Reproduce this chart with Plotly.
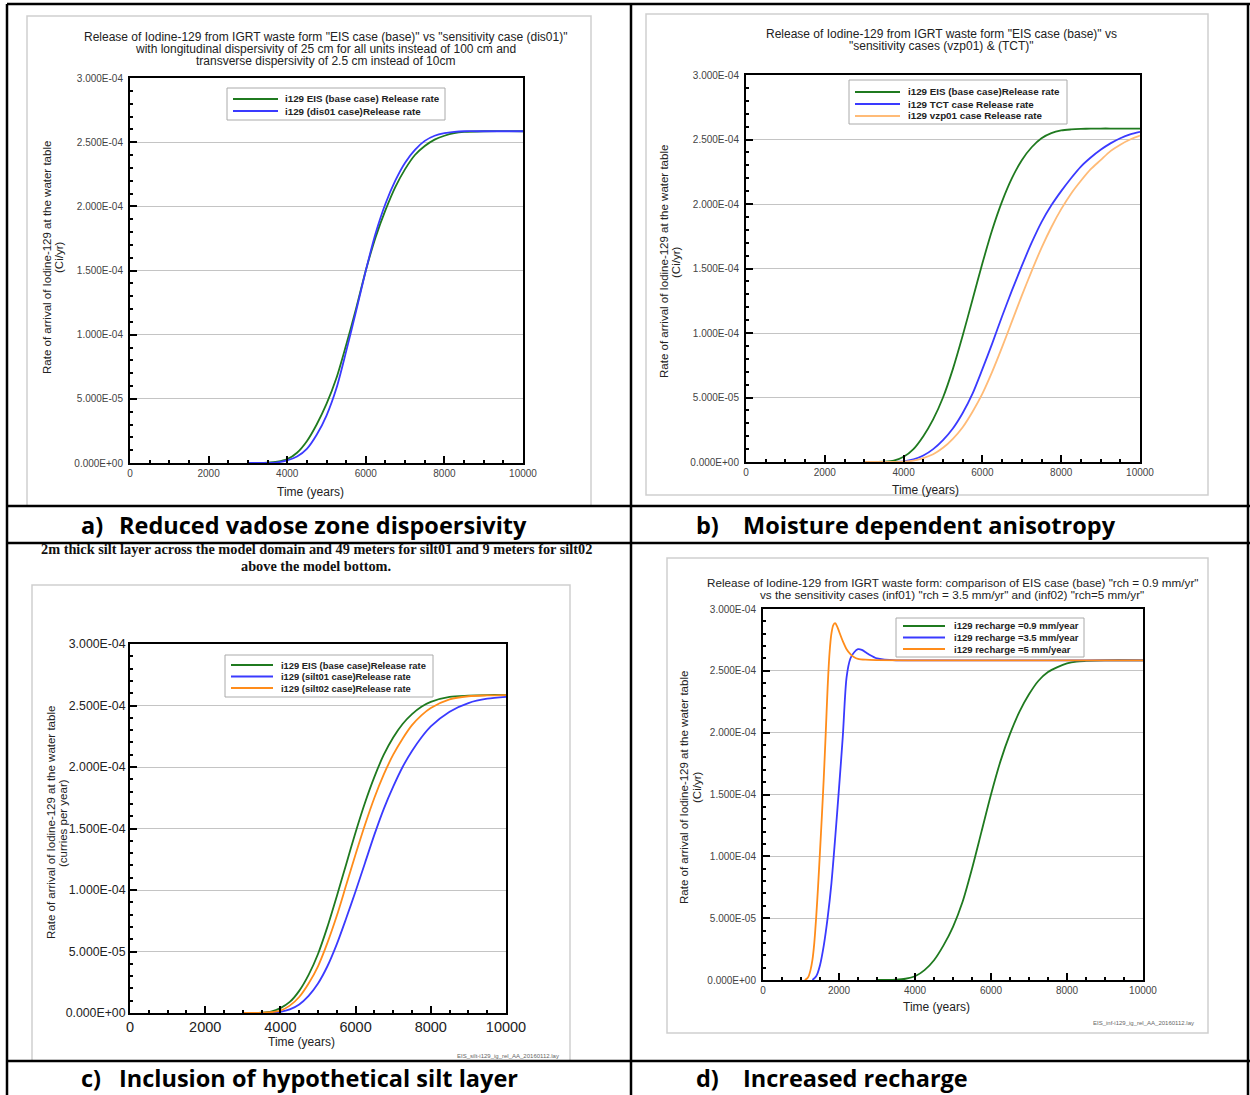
import numpy as np
import plotly.graph_objects as go

W, H = 1250, 1095

# ---------------- DATA (rates in units of 1e-4 Ci/yr) ----------------
# Panel a: reduced vadose zone dispersivity
a_t = [3000, 3250, 3500, 3750, 4000, 4250, 4500, 4750, 5000, 5250, 5500, 5750, 6000,
       6250, 6500, 6750, 7000, 7250, 7500, 7750, 8000, 8250, 8500, 9000, 10000]
a_base = [0, 0, 0.002, 0.01, 0.03, 0.08, 0.17, 0.3, 0.46, 0.66, 0.92, 1.2, 1.5,
          1.76, 1.97, 2.15, 2.29, 2.40, 2.47, 2.52, 2.55, 2.57, 2.58, 2.585, 2.585]
a_dis01 = [0, 0, 0.001, 0.005, 0.02, 0.05, 0.11, 0.22, 0.37, 0.58, 0.87, 1.18, 1.5,
           1.79, 2.02, 2.2, 2.34, 2.44, 2.51, 2.55, 2.57, 2.58, 2.585, 2.585, 2.585]

# Panel b: moisture dependent anisotropy
b_t = [3000, 3250, 3500, 3750, 4000, 4250, 4500, 4750, 5000, 5250, 5500, 5750, 6000,
       6250, 6500, 6750, 7000, 7250, 7500, 7750, 8000, 8250, 8500, 8750, 9000, 9250,
       9500, 9750, 10000]
b_base = [0, 0.001, 0.003, 0.01, 0.04, 0.1, 0.2, 0.33, 0.5, 0.72, 0.98, 1.26, 1.54,
          1.8, 2.02, 2.2, 2.34, 2.44, 2.51, 2.55, 2.57, 2.578, 2.582, 2.584, 2.585, 2.585,
          2.585, 2.585, 2.585]
b_tct = [0, 0, 0, 0.001, 0.005, 0.02, 0.05, 0.1, 0.17, 0.26, 0.38, 0.53, 0.72,
         0.92, 1.13, 1.33, 1.52, 1.7, 1.86, 1.99, 2.1, 2.2, 2.29, 2.36, 2.42, 2.47,
         2.51, 2.54, 2.56]
b_vzp01 = [0, 0, 0, 0, 0.002, 0.01, 0.03, 0.06, 0.11, 0.18, 0.27, 0.39, 0.53,
           0.7, 0.89, 1.09, 1.29, 1.48, 1.66, 1.82, 1.96, 2.08, 2.18, 2.27, 2.34, 2.41,
           2.46, 2.5, 2.53]

# Panel c: hypothetical silt layer
c_t = [3000, 3250, 3500, 3750, 4000, 4250, 4500, 4750, 5000, 5250, 5500, 5750, 6000,
       6250, 6500, 6750, 7000, 7250, 7500, 7750, 8000, 8500, 9000, 9500, 10000]
c_base = [0, 0, 0.003, 0.012, 0.04, 0.09, 0.18, 0.31, 0.48, 0.7, 0.95, 1.21, 1.47,
          1.71, 1.92, 2.1, 2.24, 2.35, 2.43, 2.49, 2.53, 2.57, 2.58, 2.585, 2.585]
c_silt01 = [0, 0, 0, 0.002, 0.01, 0.03, 0.07, 0.14, 0.24, 0.38, 0.56, 0.77, 0.99,
            1.22, 1.45, 1.66, 1.84, 2.0, 2.13, 2.24, 2.33, 2.45, 2.52, 2.555, 2.57]
c_silt02 = [0, 0, 0.001, 0.006, 0.02, 0.06, 0.13, 0.24, 0.38, 0.57, 0.79, 1.04, 1.29,
            1.53, 1.75, 1.94, 2.1, 2.23, 2.34, 2.42, 2.48, 2.55, 2.575, 2.582, 2.585]

# Panel d: increased recharge
d_t_base = [3000, 3250, 3500, 3750, 4000, 4250, 4500, 4750, 5000, 5250, 5500, 5750,
            6000, 6250, 6500, 6750, 7000, 7250, 7500, 7750, 8000, 8250, 8500, 9000, 10000]
d_base = [0, 0, 0.002, 0.01, 0.03, 0.08, 0.16, 0.28, 0.43, 0.63, 0.9, 1.2, 1.5,
          1.77, 1.99, 2.17, 2.31, 2.42, 2.49, 2.53, 2.56, 2.575, 2.58, 2.585, 2.585]
d_t_35 = [1300, 1400, 1500, 1600, 1700, 1800, 1900, 2000, 2100, 2200, 2300,
          2400, 2500, 2600, 2700, 2800, 3000, 3200, 3500, 4000, 6000, 8000, 10000]
d_35 = [0, 0.03, 0.12, 0.28, 0.5, 0.78, 1.15, 1.55, 1.97, 2.45, 2.6, 2.65, 2.675,
        2.67, 2.65, 2.63, 2.6, 2.59, 2.585, 2.585, 2.585, 2.585, 2.585]
d_t_5 = [1100, 1150, 1200, 1250, 1300, 1350, 1400, 1450, 1500, 1550, 1600, 1650,
         1700, 1750, 1800, 1850, 1900, 1950, 2000, 2100, 2200, 2300, 2400, 2500, 2700,
         3000, 4000, 10000]
d_5 = [0, 0.01, 0.03, 0.08, 0.16, 0.3, 0.51, 0.76, 1.04, 1.33, 1.64, 1.99, 2.36,
       2.64, 2.8, 2.87, 2.885, 2.86, 2.82, 2.74, 2.675, 2.635, 2.61, 2.597, 2.59, 2.587,
       2.585, 2.585]

y_tickvals = [0, 5e-5, 1e-4, 1.5e-4, 2e-4, 2.5e-4, 3e-4]
y_ticktext = ["0.000E+00", "5.000E-05", "1.000E-04", "1.500E-04", "2.000E-04",
              "2.500E-04", "3.000E-04"]
x_tickvals = [0, 2000, 4000, 6000, 8000, 10000]
x_ticktext = ["0", "2000", "4000", "6000", "8000", "10000"]

GREEN = "#1f7a1f"
BLUE = "#3a3aff"
ORANGE = "#ff8c1a"
PEACH = "#ffbb77"


def px(x):
    return x / W


def py(y):
    return 1 - y / H


fig = go.Figure()

# plot boxes in pixels: (left, right, top, bottom)
boxes = {
    1: (130, 523, 78, 463),
    2: (746, 1140, 75, 462),
    3: (130, 506, 644, 1013),
    4: (763, 1143, 609, 980),
}


def add(t, v, color, name, k):
    fig.add_trace(go.Scatter(
        x=t, y=np.array(v) * 1e-4, mode="lines", name=name, showlegend=False,
        line=dict(color=color, width=1.8, shape="spline", smoothing=0.8),
        xaxis="x" if k == 1 else f"x{k}", yaxis="y" if k == 1 else f"y{k}",
        hoverinfo="skip"))


series = [
    (1, a_t, a_base, GREEN, "i129 EIS (base case) Release rate"),
    (1, a_t, a_dis01, BLUE, "i129 (dis01 case)Release rate"),
    (2, b_t, b_base, GREEN, "i129 EIS (base case)Release rate"),
    (2, b_t, b_tct, BLUE, "i129 TCT case Release rate"),
    (2, b_t, b_vzp01, PEACH, "i129 vzp01 case Release rate"),
    (3, c_t, c_base, GREEN, "i129 EIS (base case)Release rate"),
    (3, c_t, c_silt01, BLUE, "i129 (silt01 case)Release rate"),
    (3, c_t, c_silt02, ORANGE, "i129 (silt02 case)Release rate"),
    (4, d_t_base, d_base, GREEN, "i129 recharge =0.9 mm/year"),
    (4, d_t_35, d_35, BLUE, "i129 recharge =3.5 mm/year"),
    (4, d_t_5, d_5, ORANGE, "i129 recharge =5 mm/year"),
]
for k, t, v, col, nm in series:
    add(t, v, col, nm, k)

layout = dict(
    width=W, height=H,
    margin=dict(l=0, r=0, t=0, b=0, pad=0, autoexpand=False),
    paper_bgcolor="white", plot_bgcolor="white", showlegend=False,
    font=dict(family="Liberation Sans, Arial, sans-serif", color="#222"),
)

for k, (l, r, t, b) in boxes.items():
    big = (k == 3)
    xa = dict(
        domain=[px(l), px(r)], range=[0, 10000], tickmode="array", tickvals=x_tickvals,
        ticktext=x_ticktext, automargin=False,
        ticks="inside", ticklen=7, tickwidth=1.5, tickcolor="black",
        showline=True, linecolor="black", linewidth=2, mirror=True,
        showgrid=False, zeroline=False,
        tickfont=dict(size=14.5 if big else 10, color="#222" if big else "#444"),
        minor=dict(tickmode="linear", tick0=0, dtick=500, ticks="inside", ticklen=3,
                   tickcolor="black", showgrid=False),
        anchor="y" if k == 1 else f"y{k}", fixedrange=True,
    )
    ya = dict(
        domain=[py(b), py(t)], range=[0, 3e-4], tickmode="array", tickvals=y_tickvals,
        ticktext=y_ticktext, automargin=False, ticklabelstandoff=0 if big else 3,
        ticks="inside", ticklen=7, tickwidth=1.5, tickcolor="black",
        showline=True, linecolor="black", linewidth=2, mirror=True,
        showgrid=True, gridcolor="#c4c4c4", gridwidth=1, zeroline=False,
        tickfont=dict(size=12.3 if big else 10, color="#222" if big else "#444"),
        minor=dict(tickmode="linear", tick0=0, dtick=1e-5, ticks="inside", ticklen=3,
                   tickcolor="black", showgrid=False),
        anchor="x" if k == 1 else f"x{k}", fixedrange=True,
    )
    layout["xaxis" if k == 1 else f"xaxis{k}"] = xa
    layout["yaxis" if k == 1 else f"yaxis{k}"] = ya

fig.update_layout(**layout)

shapes = []
ann = []


def text(x, y, s, size, anchor="center", angle=0, family=None, color="#222", bold=False):
    d = dict(x=px(x), y=py(y), xref="paper", yref="paper", text=f"<b>{s}</b>" if bold else s,
             showarrow=False, xanchor=anchor, yanchor="middle", textangle=angle,
             font=dict(size=size, color=color), borderpad=0)
    if family:
        d["font"]["family"] = family
    ann.append(d)


# light grey frames around each chart picture
for (x0, y0, x1, y1) in [(27, 16, 591, 506), (646, 14, 1208, 495),
                         (32, 585, 570, 1061), (667, 558, 1208, 1033)]:
    shapes.append(dict(type="rect", xref="paper", yref="paper", x0=px(x0), x1=px(x1),
                       y0=py(y1), y1=py(y0), line=dict(color="#cfcfcf", width=1.5)))

# legends: (box left, right, top, bottom, first row y, row step, line x0, x1, text x, font)
legend_geom = {
    1: (227, 445, 88, 120, 99, 12, 233, 278, 284, 9.8),
    2: (849, 1067, 80, 124, 92, 12, 855, 900, 907, 9.8),
    3: (225, 433, 655, 697, 665, 11.5, 231, 273, 280, 9.4),
    4: (896, 1084, 618, 657, 626, 11.5, 903, 945, 953, 9.5),
}
for k, (bl, br, bt, bb, ry, step, lx0, lx1, tx, fs) in legend_geom.items():
    shapes.append(dict(type="rect", xref="paper", yref="paper", x0=px(bl), x1=px(br),
                       y0=py(bb), y1=py(bt), fillcolor="white",
                       line=dict(color="#aaaaaa", width=1)))
    rows = [s for s in series if s[0] == k]
    for i, (_, _, _, col, nm) in enumerate(rows):
        yy = ry + i * step
        shapes.append(dict(type="line", xref="paper", yref="paper", x0=px(lx0), x1=px(lx1),
                           y0=py(yy), y1=py(yy), line=dict(color=col, width=2)))
        text(tx, yy, nm, fs, anchor="left", color="#222", bold=True)

# black table lines
for (x0, y0, x1, y1) in [(7, 4, 1250, 4), (7, 506, 1250, 506), (7, 543, 1250, 543),
                         (7, 1061, 1250, 1061), (7, 4, 7, 1095), (631, 4, 631, 1095),
                         (1248, 4, 1248, 1095)]:
    shapes.append(dict(type="line", xref="paper", yref="paper", x0=px(x0), x1=px(x1),
                       y0=py(y0), y1=py(y1), line=dict(color="black", width=2.5)))
fig.update_layout(shapes=shapes)

# titles
text(326, 37, 'Release of Iodine-129 from IGRT waste form "EIS case (base)" vs "sensitivity case (dis01)"', 12)
text(326, 49, 'with longitudinal dispersivity of 25 cm for all units instead of 100 cm and', 12)
text(326, 61, 'transverse dispersivity of 2.5 cm instead of 10cm', 12)
text(941, 34, 'Release of Iodine-129 from IGRT waste form "EIS case (base)" vs', 12)
text(941, 46, '"sensitivity cases (vzp01) & (TCT)"', 12)
text(316, 549, '2m thick silt layer across the model domain and 49 meters for silt01 and 9 meters for silt02',
     14.3, family="Liberation Serif, Times New Roman, serif", color="#111", bold=True)
text(316, 566, 'above the model bottom.', 14.3,
     family="Liberation Serif, Times New Roman, serif", color="#111", bold=True)
text(952, 582, 'Release of Iodine-129 from IGRT waste form: comparison of EIS case (base) "rch = 0.9 mm/yr"', 11.7)
text(952, 594, 'vs the sensitivity cases (inf01) "rch = 3.5 mm/yr" and (inf02) "rch=5 mm/yr"', 11.7)

# y axis titles
ylab = "Rate of arrival of Iodine-129 at the water table"
for (x1, x2, yc, unit) in [(47, 59, 258, "(Ci/yr)"), (664, 676, 262, "(Ci/yr)"),
                           (51, 63, 823, "(curries per year)"), (684, 697, 788, "(Ci/yr)")]:
    text(x1, yc, ylab, 11.5, angle=-90)
    text(x2, yc, unit, 11.5, angle=-90)

# x axis titles
for (xc, yc) in [(310, 492), (925, 490), (301, 1042), (936, 1007)]:
    text(xc, yc, "Time (years)", 12)

# fine print
text(560, 1056, "EIS_silt-i129_ig_rel_AA_20160112.lay", 6, anchor="right", color="#666")
text(1195, 1023, "EIS_inf-i129_ig_rel_AA_20160112.lay", 6, anchor="right", color="#666")

# captions
CAP = "Open Sans, Lato, Carlito, Calibri, sans-serif"
for (x1, x2, yc, lab, s) in [(80, 118, 525, "a)", "Reduced vadose zone dispoersivity"),
                             (695, 742, 525, "b)", "Moisture dependent anisotropy"),
                             (80, 118, 1078, "c)", "Inclusion of hypothetical silt layer"),
                             (695, 742, 1078, "d)", "Increased recharge")]:
    text(x1, yc, lab, 23.5, anchor="left", family=CAP, color="black", bold=True)
    text(x2, yc, s, 23.5, anchor="left", family=CAP, color="black", bold=True)

fig.update_layout(annotations=ann)
fig.write_html(
    "out.html",
    config={"displayModeBar": False, "responsive": False},
    post_script="document.body.style.margin='0';document.body.style.padding='0';"
                "document.body.style.overflow='hidden';",
)
